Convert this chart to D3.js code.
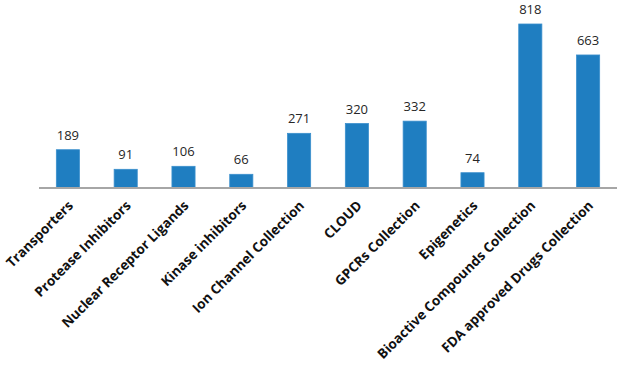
<!DOCTYPE html>
<html lang="en">
<head>
    <meta charset="UTF-8">
    <title>Collections</title>
    <script src="https://d3js.org/d3.v7.min.js"></script>
    <style>
        body { margin: 0; background: #fff; }
        .value { font-family: "Open Sans", sans-serif; font-size: 13px; fill: #262626; }
        .cat { font-family: "Open Sans", sans-serif; font-size: 13.5px; font-weight: bold; fill: #111; }
    </style>
</head>
<body>
    <svg width="628" height="367"></svg>
    <script>
        const categories = ["Transporters", "Protease Inhibitors", "Nuclear Receptor Ligands", "Kinase inhibitors",
            "Ion Channel Collection", "CLOUD", "GPCRs Collection", "Epigenetics",
            "Bioactive Compounds Collection", "FDA approved Drugs Collection"];
        const values = [189, 91, 106, 66, 271, 320, 332, 74, 818, 663];

        const svg = d3.select("svg");
        const plotLeft = 39, plotRight = 617, baseline = 187.5, plotTop = 24;

        const x = d3.scaleBand()
            .domain(categories)
            .range([plotLeft, plotRight])
            .paddingInner(0.6)
            .paddingOuter(0.3);

        const y = d3.scaleLinear()
            .domain([0, 818])
            .range([baseline, plotTop]);

        // bars
        svg.append("g")
            .selectAll("rect")
            .data(values)
            .enter().append("rect")
            .attr("x", (d, i) => x(categories[i]))
            .attr("y", d => y(d))
            .attr("width", x.bandwidth())
            .attr("height", d => baseline - y(d))
            .attr("fill", "#1f7ec1")
            .attr("stroke", "#3a8fcc")
            .attr("stroke-width", 0.8);

        // axis line
        svg.append("line")
            .attr("x1", plotLeft).attr("x2", plotRight)
            .attr("y1", baseline + 0.5).attr("y2", baseline + 0.5)
            .attr("stroke", "#a6a6a6")
            .attr("stroke-width", 2);

        // value labels
        svg.append("g")
            .selectAll("text")
            .data(values)
            .enter().append("text")
            .attr("class", "value")
            .attr("text-anchor", "middle")
            .attr("x", (d, i) => x(categories[i]) + x.bandwidth() / 2)
            .attr("y", d => y(d) - 10)
            .text(d => d);

        // category labels
        svg.append("g")
            .selectAll("text")
            .data(categories)
            .enter().append("text")
            .attr("class", "cat")
            .attr("text-anchor", "end")
            .attr("transform", d => `translate(${x(d) + x.bandwidth() / 2 + 6},${baseline + 19}) rotate(-45)`)
            .text(d => d);
    </script>
</body>
</html>
